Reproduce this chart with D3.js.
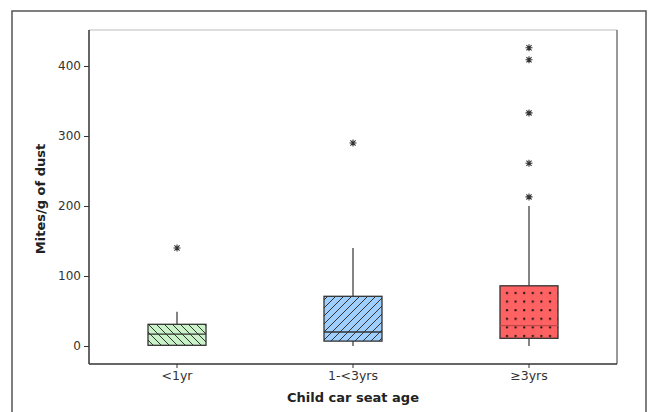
<!DOCTYPE html>
<html><head><meta charset="utf-8">
<script src="https://cdn.jsdelivr.net/npm/d3@7"></script>
<style>body{margin:0;background:#fff;} svg{display:block;}</style>
</head><body>
<script>
const categories = ["<1yr", "1-<3yrs", "≥3yrs"];
const q1 = [1, 7, 11];
const median = [17, 20, 29];
const q3 = [31, 71, 86];
const whiskerLow = [0, 0, 0];
const whiskerHigh = [49, 140, 200];
const outliers = [[140], [290], [213, 261, 333, 409, 426]];
const yTicks = [0, 100, 200, 300, 400];

const W = 649, H = 412;
const svg = d3.select("body").append("svg").attr("width", W).attr("height", H);
const L = 89, R = 617, T = 30, B = 364;

const x = d3.scaleBand().domain(categories).range([L, R]).padding(0);
const y = d3.scaleLinear().domain([-25.7, 451.4]).range([B, T]);

const defs = svg.append("defs");
const p1 = defs.append("pattern").attr("id", "p1").attr("patternUnits", "userSpaceOnUse")
  .attr("width", 8).attr("height", 8);
p1.append("rect").attr("width", 8).attr("height", 8).attr("fill", "#c9f2c9");
p1.append("path").attr("d", "M0,0 L8,8 M-2,6 L2,10 M6,-2 L10,2").attr("stroke", "#333").attr("stroke-width", 1);
const p2 = defs.append("pattern").attr("id", "p2").attr("patternUnits", "userSpaceOnUse")
  .attr("width", 8).attr("height", 8);
p2.append("rect").attr("width", 8).attr("height", 8).attr("fill", "#9fcfff");
p2.append("path").attr("d", "M0,8 L8,0 M-2,2 L2,-2 M6,10 L10,6").attr("stroke", "#333").attr("stroke-width", 1);
const p3 = defs.append("pattern").attr("id", "p3").attr("patternUnits", "userSpaceOnUse")
  .attr("width", 8.6).attr("height", 8.6).attr("x", 503).attr("y", 289);
p3.append("rect").attr("width", 8.6).attr("height", 8.6).attr("fill", "#ff6262");
p3.append("rect").attr("x", 3).attr("y", 3).attr("width", 2).attr("height", 2).attr("fill", "#111");
const fills = ["url(#p1)", "url(#p2)", "url(#p3)"];
const medColors = ["#333", "#333", "#c24848"];

svg.append("rect").attr("x", 12).attr("y", 11).attr("width", 634).attr("height", 420)
  .attr("fill", "none").attr("stroke", "#555").attr("stroke-width", 1.5);

svg.append("line").attr("x1", L).attr("x2", R).attr("y1", T).attr("y2", T).attr("stroke", "#ddd").attr("stroke-width", 2);
svg.append("line").attr("x1", R).attr("x2", R).attr("y1", T).attr("y2", B).attr("stroke", "#777").attr("stroke-width", 1.5);

const yAxis = d3.axisLeft(y).tickValues(yTicks).tickSize(5).tickPadding(3);
const gy = svg.append("g").attr("transform", `translate(${L},0)`).call(yAxis);
gy.select(".domain").attr("stroke", "#333").attr("stroke-width", 1.5).attr("d", `M0,${T}V${B}`);
gy.selectAll(".tick line").attr("stroke", "#333");
gy.selectAll(".tick text").attr("fill", "#333").style("font-family", "DejaVu Sans").style("font-size", "12px");

const xAxis = d3.axisBottom(x).tickSize(4).tickPadding(3);
const gx = svg.append("g").attr("transform", `translate(0,${B})`).call(xAxis);
gx.select(".domain").attr("stroke", "#333").attr("stroke-width", 1.5).attr("d", `M${L},0H${R}`);
gx.selectAll(".tick line").attr("stroke", "#333");
gx.selectAll(".tick text").attr("fill", "#333").style("font-family", "DejaVu Sans").style("font-size", "12.5px");

const bw = 58;
categories.forEach((c, i) => {
  const cx = x(c) + x.bandwidth() / 2;
  const g = svg.append("g");
  g.append("line").attr("x1", cx).attr("x2", cx).attr("y1", y(q3[i])).attr("y2", y(whiskerHigh[i])).attr("stroke", "#333").attr("stroke-width", 1.2);
  g.append("line").attr("x1", cx).attr("x2", cx).attr("y1", y(q1[i])).attr("y2", y(whiskerLow[i])).attr("stroke", "#333").attr("stroke-width", 1.2);
  g.append("rect").attr("x", cx - bw / 2).attr("y", y(q3[i])).attr("width", bw).attr("height", y(q1[i]) - y(q3[i]))
    .attr("fill", fills[i]).attr("stroke", "#333").attr("stroke-width", 1.3);
  g.append("line").attr("x1", cx - bw / 2).attr("x2", cx + bw / 2).attr("y1", y(median[i])).attr("y2", y(median[i]))
    .attr("stroke", medColors[i]).attr("stroke-width", 1.3);
  outliers[i].forEach(v => {
    const oy = y(v), s = 3.5, d = 2.6;
    g.append("path").attr("d", `M${cx},${oy - s}V${oy + s}M${cx - d},${oy - d}L${cx + d},${oy + d}M${cx - d},${oy + d}L${cx + d},${oy - d}M${cx - s},${oy}H${cx + s}`)
      .attr("stroke", "#333").attr("stroke-width", 1.1).attr("fill", "none");
  });
});

svg.append("text").attr("x", (L + R) / 2).attr("y", 402).attr("text-anchor", "middle")
  .style("font-family", "DejaVu Sans").style("font-weight", "bold").style("font-size", "13px").attr("fill", "#222")
  .text("Child car seat age");
svg.append("text").attr("transform", `translate(45,${(T + B) / 2 + 2}) rotate(-90)`).attr("text-anchor", "middle")
  .style("font-family", "DejaVu Sans").style("font-weight", "bold").style("font-size", "13px").attr("fill", "#222")
  .text("Mites/g of dust");
</script>
</body></html>
